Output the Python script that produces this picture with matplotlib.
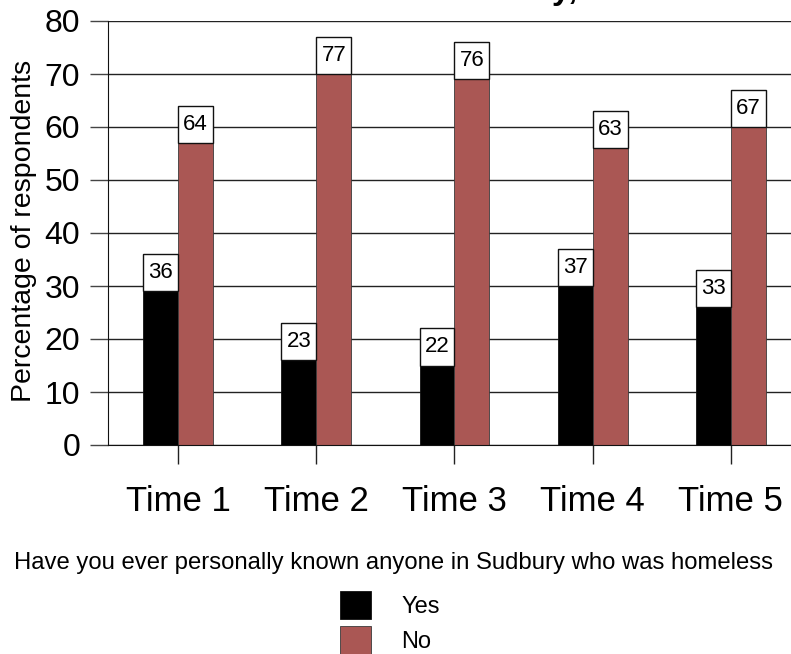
import numpy as np
import matplotlib
matplotlib.use("Agg")
import matplotlib.pyplot as plt
from matplotlib.patches import Rectangle, Patch

plt.rcParams['font.family'] = ['Liberation Sans', 'DejaVu Sans']

times = ["Time 1", "Time 2", "Time 3", "Time 4", "Time 5"]
yes_vals = [36, 23, 22, 37, 33]
no_vals = [64, 77, 76, 63, 67]
yes_color = "#000000"
no_color = "#AA5754"

W, H = 791, 654
fig = plt.figure(figsize=(W / 100, H / 100), dpi=100)
ax = fig.add_axes([108 / W, 1 - 445 / H, 1 - 108 / W, 424 / H])

x = np.arange(len(times))
width = 0.253
box_h = 7.0  # label box height in data units

# gridlines behind the bars
ax.set_axisbelow(True)
ax.yaxis.grid(True, color="#222222", linewidth=1)

ax.bar(x - width / 2, yes_vals, width, color=yes_color, edgecolor="#111111", linewidth=0.6, zorder=2)
ax.bar(x + width / 2, no_vals, width, color=no_color, edgecolor="#3a3a3a", linewidth=0.6, zorder=2)

# value labels in white boxes sitting at the top of each bar
for xs, vals in [(x - width, yes_vals), (x, no_vals)]:
    for xi, v in zip(xs, vals):
        ax.add_patch(Rectangle((xi, v - box_h), width, box_h, facecolor="white",
                               edgecolor="#111111", linewidth=1, zorder=3))
        ax.text(xi + width / 2, v - box_h / 2, str(v), ha="center", va="center",
                fontsize=16, zorder=4)

ax.set_xlim(-0.507, 4.435)
ax.set_ylim(0, 80)
ax.set_yticks(range(0, 81, 10))
ax.set_xticks(x)
ax.set_xticklabels(times, fontsize=25)
ax.tick_params(axis="y", labelsize=23, length=13, width=1, pad=7, color="#444444")
ax.tick_params(axis="x", length=14, width=1, pad=15, color="#222222")

for side in ["top", "right"]:
    ax.spines[side].set_visible(False)
ax.spines["left"].set_color("#111111")
ax.spines["bottom"].set_color("#111111")

ax.set_ylabel("Percentage of respondents", fontsize=20.5)
ax.yaxis.set_label_coords(-0.104, 0.505)

# title is cut off at the top edge of the image
fig.text(577 / W, 1 + 1.5 / H, "Sudbury,", ha="right", va="baseline",
         fontsize=24, fontweight="bold")

fig.text(393 / W, 1 - 569 / H, "Have you ever personally known anyone in Sudbury who was homeless",
         ha="center", va="baseline", fontsize=17.2)

handles = [Patch(facecolor=yes_color, edgecolor="#111111", linewidth=0.6),
           Patch(facecolor=no_color, edgecolor="#3a3a3a", linewidth=0.6)]
fig.legend(handles, ["Yes", "No"], loc="upper left", bbox_to_anchor=(340 / W, 1 - 591 / H),
           frameon=False, fontsize=17, handlelength=1.3, handleheight=1.45,
           handletextpad=1.3, labelspacing=0.3, borderpad=0, borderaxespad=0)

fig.savefig("out.png", dpi=100)
